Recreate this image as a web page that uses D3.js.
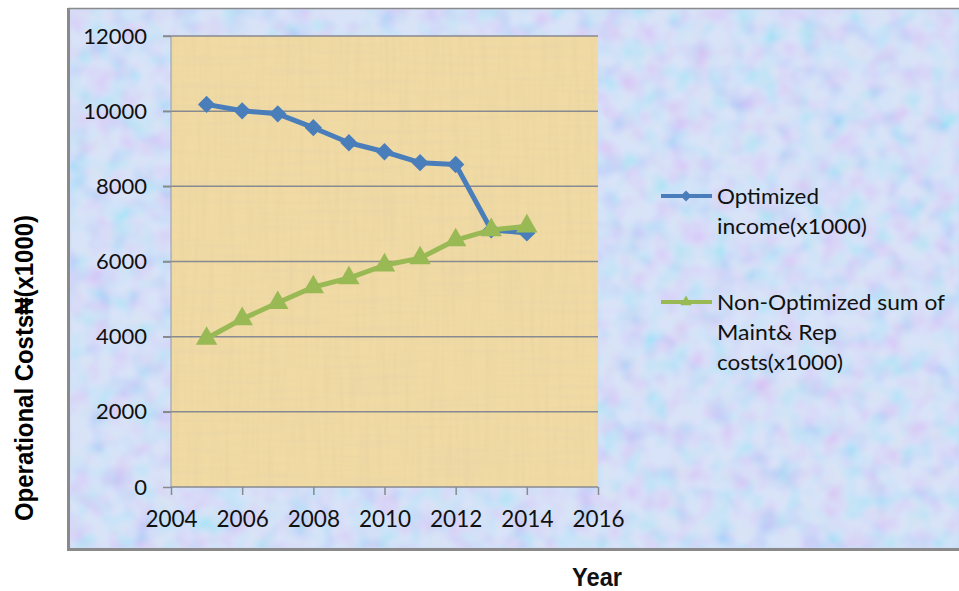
<!DOCTYPE html>
<html>
<head>
<meta charset="utf-8">
<script src="https://cdn.jsdelivr.net/npm/d3@7"></script>
<style>
  html, body { margin: 0; padding: 0; background: #ffffff; }
  svg { display: block; }
</style>
</head>
<body>
<svg id="chart" width="959" height="591"></svg>
<script>
// ---- data ----
const years = [2005, 2006, 2007, 2008, 2009, 2010, 2011, 2012, 2013, 2014];
const optimizedIncome = [10180, 10010, 9930, 9560, 9160, 8920, 8630, 8580, 6840, 6760];
const nonOptimizedCosts = [3950, 4470, 4900, 5320, 5560, 5900, 6090, 6570, 6840, 6940];
const xTicks = [2004, 2006, 2008, 2010, 2012, 2014, 2016];
const yTicks = [0, 2000, 4000, 6000, 8000, 10000, 12000];
const seriesNames = ["Optimized income(x1000)", "Non-Optimized sum of Maint& Rep costs(x1000)"];
const legendLines = [["Optimized", "income(x1000)"], ["Non-Optimized sum of", "Maint& Rep", "costs(x1000)"]];
const yTitle = "Operational Costs\u20A6(x1000)";
const xTitle = "Year";

const svg = d3.select("#chart");
const W = 959, H = 591;
const plot = { left: 171, right: 598, top: 36, bottom: 487 };

const defs = svg.append("defs");
// soft mottled blue/pink background texture
const f1 = defs.append("filter").attr("id", "texBg")
  .attr("x", 0).attr("y", 0).attr("width", 1).attr("height", 1);
f1.append("feTurbulence").attr("type", "fractalNoise").attr("baseFrequency", 0.045)
  .attr("numOctaves", 2).attr("seed", 4).attr("result", "n");
f1.append("feColorMatrix").attr("type", "matrix").attr("values",
  "2.0 0 0 0 -0.2  0 1.5 0 0 0.1  0 0 0.3 0 0.8  0 0 0 0 0.26").attr("result", "c");
f1.append("feGaussianBlur").attr("in", "c").attr("stdDeviation", 1.4);
// papyrus texture
const f2 = defs.append("filter").attr("id", "texPap")
  .attr("x", 0).attr("y", 0).attr("width", 1).attr("height", 1);
f2.append("feTurbulence").attr("type", "fractalNoise").attr("baseFrequency", "0.2 0.012")
  .attr("numOctaves", 2).attr("seed", 7).attr("result", "a");
f2.append("feColorMatrix").attr("in", "a").attr("type", "matrix").attr("values",
  "0 0 0 0 0.74  0 0 0 0 0.62  0 0 0 0 0.36  1.3 0 0 0 -0.55").attr("result", "a2");
f2.append("feTurbulence").attr("type", "fractalNoise").attr("baseFrequency", "0.012 0.2")
  .attr("numOctaves", 2).attr("seed", 11).attr("result", "b");
f2.append("feColorMatrix").attr("in", "b").attr("type", "matrix").attr("values",
  "0 0 0 0 0.76  0 0 0 0 0.64  0 0 0 0 0.4  1.3 0 0 0 -0.55").attr("result", "b2");
const m2 = f2.append("feMerge");
m2.append("feMergeNode").attr("in", "a2");
m2.append("feMergeNode").attr("in", "b2");

// ---- outer frame ----
svg.append("rect").attr("x", 70).attr("y", 9).attr("width", W - 70).attr("height", 539)
  .attr("fill", "#cbd9f6");
svg.append("rect").attr("x", 70).attr("y", 9).attr("width", W - 70).attr("height", 539)
  .attr("filter", "url(#texBg)");
svg.append("line").attr("x1", 68).attr("x2", W).attr("y1", 8.5).attr("y2", 8.5)
  .attr("stroke", "#8a8a8a").attr("stroke-width", 1.5);
svg.append("line").attr("x1", 68.5).attr("x2", 68.5).attr("y1", 8).attr("y2", 551)
  .attr("stroke", "#8a8a8a").attr("stroke-width", 3);
svg.append("line").attr("x1", 67).attr("x2", W).attr("y1", 549.5).attr("y2", 549.5)
  .attr("stroke", "#8a8a8a").attr("stroke-width", 3);

// ---- plot area ----
svg.append("rect").attr("x", plot.left).attr("y", plot.top)
  .attr("width", plot.right - plot.left).attr("height", plot.bottom - plot.top)
  .attr("fill", "#f1daa3");
svg.append("rect").attr("x", plot.left).attr("y", plot.top)
  .attr("width", plot.right - plot.left).attr("height", plot.bottom - plot.top)
  .attr("filter", "url(#texPap)").attr("opacity", 0.6);

const x = d3.scaleLinear().domain([2004, 2016]).range([plot.left, plot.right]);
const y = d3.scaleLinear().domain([0, 12000]).range([plot.bottom, plot.top]);

// gridlines
svg.append("g").selectAll("line").data(yTicks.filter(d => d > 0)).join("line")
  .attr("x1", plot.left - 8).attr("x2", plot.right)
  .attr("y1", d => y(d)).attr("y2", d => y(d))
  .attr("stroke", "#878a90").attr("stroke-width", 1.5);

// axes
const tickFont = "Lato, 'Open Sans', sans-serif";
const gy = svg.append("g").attr("transform", `translate(${plot.left},0)`)
  .call(d3.axisLeft(y).tickValues(yTicks).tickFormat(d3.format("d")).tickSize(8).tickPadding(16));
gy.select(".domain").attr("stroke", "#9a9a9a").attr("stroke-width", 1).attr("d", `M0,${plot.top}V${plot.bottom}`);
gy.selectAll(".tick line").attr("stroke", "#878a90").attr("stroke-width", 1.5);
gy.selectAll(".tick text").attr("font-family", tickFont).attr("font-size", 22).attr("fill", "#111");

const gx = svg.append("g").attr("transform", `translate(0,${plot.bottom})`)
  .call(d3.axisBottom(x).tickValues(xTicks).tickFormat(d3.format("d")).tickSize(8).tickPadding(16));
gx.select(".domain").attr("stroke", "#878a90").attr("stroke-width", 1.5).attr("d", `M${plot.left},0H${plot.right}`);
gx.selectAll(".tick line").attr("stroke", "#878a90").attr("stroke-width", 1.5);
gx.selectAll(".tick text").attr("font-family", tickFont).attr("font-size", 22.5).attr("fill", "#111");

// ---- series ----
const blue = "#4a7ebb", green = "#98b954";
const lineGen = d3.line().x(d => x(d[0])).y(d => y(d[1]));
const optData = years.map((yr, i) => [yr, optimizedIncome[i]]);
const nonData = years.map((yr, i) => [yr, nonOptimizedCosts[i]]);

svg.append("path").datum(optData).attr("d", lineGen)
  .attr("fill", "none").attr("stroke", blue).attr("stroke-width", 5).attr("stroke-linejoin", "round");
svg.append("g").selectAll("path").data(optData).join("path")
  .attr("d", d3.symbol().type(d3.symbolSquare).size(150)())
  .attr("transform", d => `translate(${x(d[0])},${y(d[1])}) rotate(45)`)
  .attr("fill", blue);

svg.append("path").datum(nonData).attr("d", lineGen)
  .attr("fill", "none").attr("stroke", green).attr("stroke-width", 5).attr("stroke-linejoin", "round");
svg.append("g").selectAll("path").data(nonData).join("path")
  .attr("d", d3.symbol().type(d3.symbolTriangle).size(200)())
  .attr("transform", d => `translate(${x(d[0])},${y(d[1])})`)
  .attr("fill", green);

// ---- legend ----
const legendFont = "Lato, 'Open Sans', sans-serif";
const legendItems = [
  { color: blue, sym: d3.symbolSquare, size: 60, rot: 45, ly: 196, lines: legendLines[0],
    widths: [102, 150], baselines: [204, 234] },
  { color: green, sym: d3.symbolTriangle, size: 55, rot: 0, ly: 302, lines: legendLines[1],
    widths: [228, 120, 126], baselines: [310, 340, 370] }
];
const lg = svg.append("g");
legendItems.forEach(it => {
  lg.append("line").attr("x1", 661).attr("x2", 712).attr("y1", it.ly).attr("y2", it.ly)
    .attr("stroke", it.color).attr("stroke-width", 4);
  lg.append("path").attr("d", d3.symbol().type(it.sym).size(it.size)())
    .attr("transform", `translate(686,${it.ly}) rotate(${it.rot})`).attr("fill", it.color);
  it.lines.forEach((t, i) => {
    lg.append("text").attr("x", 717).attr("y", it.baselines[i])
      .attr("font-family", legendFont).attr("font-size", 22).attr("fill", "#111")
      .attr("textLength", it.widths[i]).attr("lengthAdjust", "spacingAndGlyphs")
      .text(t);
  });
});

// ---- axis titles ----
svg.append("text")
  .attr("transform", "translate(33,368) rotate(-90)")
  .attr("text-anchor", "middle")
  .attr("font-family", "'Liberation Sans Narrow', 'Liberation Sans', Arial, sans-serif")
  .attr("font-size", 26).attr("font-weight", "bold").attr("fill", "#000")
  .attr("textLength", 306).attr("lengthAdjust", "spacingAndGlyphs")
  .text(yTitle);

svg.append("text")
  .attr("x", 597).attr("y", 586)
  .attr("text-anchor", "middle")
  .attr("font-family", "'Liberation Sans', Arial, sans-serif")
  .attr("font-size", 25).attr("font-weight", "bold").attr("fill", "#111")
  .attr("textLength", 50).attr("lengthAdjust", "spacingAndGlyphs")
  .text(xTitle);
</script>
</body>
</html>
